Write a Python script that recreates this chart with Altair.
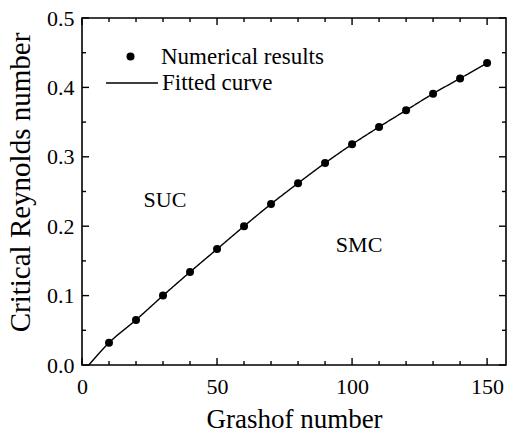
import altair as alt
import pandas as pd

# ---- data ----
grashof = [10, 20, 30, 40, 50, 60, 70, 80, 90, 100, 110, 120, 130, 140, 150]
reynolds = [0.032, 0.065, 0.100, 0.134, 0.167, 0.200, 0.232, 0.262, 0.291,
            0.318, 0.343, 0.367, 0.391, 0.413, 0.435]
fit_x = [2.5, 10, 20, 30, 40, 50, 60, 70, 80, 90, 100, 110, 120, 130, 140, 150]
fit_y = [0.0, 0.032, 0.065, 0.100, 0.134, 0.167, 0.200, 0.232, 0.262, 0.291,
         0.318, 0.343, 0.367, 0.391, 0.413, 0.435]
region_labels = ["SUC", "SMC"]
region_x = [30.7, 102.6]
region_y = [0.238, 0.173]
x_major = [0, 50, 100, 150]
x_minor = [10, 20, 30, 40, 60, 70, 80, 90, 110, 120, 130, 140]
y_major = [0.0, 0.1, 0.2, 0.3, 0.4, 0.5]
y_minor = [0.05, 0.15, 0.25, 0.35, 0.45]

FONT = "Liberation Serif"
W, H = 424, 347
MAJ, MIN = 7, 4
xs = alt.Scale(domain=[0, 157], nice=False, zero=False)
ys = alt.Scale(domain=[0, 0.5], nice=False)

fit_df = pd.DataFrame({"x": fit_x, "y": fit_y, "series": "Fitted curve"})
pts_df = pd.DataFrame({"x": grashof, "y": reynolds, "series": "Numerical results"})
txt_df = pd.DataFrame({"x": region_x, "y": region_y, "label": region_labels})

line = alt.Chart(fit_df).mark_line(color="black", strokeWidth=1.4,
                                   interpolate="monotone").encode(
    x=alt.X("x:Q", scale=xs, title="Grashof number",
            axis=alt.Axis(values=x_major, format="d", ticks=False, domain=False,
                          grid=False, labelFlush=False, labelPadding=11,
                          labelFont=FONT, labelFontSize=22, titleFont=FONT,
                          titlePadding=9, titleFontSize=27)),
    y=alt.Y("y:Q", scale=ys, title="Critical Reynolds number",
            axis=alt.Axis(values=y_major, format=".1f", ticks=False, domain=False,
                          grid=False, labelFlush=False, labelPadding=8,
                          labelFont=FONT, labelFontSize=22, titleFont=FONT,
                          titlePadding=11, titleFontSize=29, titleY=164)),
    strokeDash=alt.StrokeDash(
        "series:N",
        scale=alt.Scale(domain=["Fitted curve"], range=[[1, 0]]),
        legend=alt.Legend(orient="none", legendX=23, legendY=38, title=None,
                          symbolSize=2704, symbolStrokeWidth=1.5,
                          symbolStrokeColor="black", labelOffset=3,
                          labelLimit=400)),
)

pts = alt.Chart(pts_df).mark_point(filled=True, color="black", size=64,
                                   opacity=1).encode(
    x=alt.X("x:Q", scale=xs, axis=None),
    y=alt.Y("y:Q", scale=ys, axis=None),
    shape=alt.Shape(
        "series:N",
        scale=alt.Scale(domain=["Numerical results"], range=["circle"]),
        legend=alt.Legend(orient="none", legendX=37, legendY=27, title=None,
                          symbolSize=64, symbolFillColor="black",
                          symbolStrokeColor="black", symbolOpacity=1,
                          labelOffset=19, labelLimit=400)),
)

txt = alt.Chart(txt_df).mark_text(font=FONT, fontSize=22, color="black").encode(
    x=alt.X("x:Q", scale=xs, axis=None),
    y=alt.Y("y:Q", scale=ys, axis=None),
    text="label:N",
)


def xticks(values, y0, y1):
    return alt.Chart(pd.DataFrame({"v": values})).mark_rule(
        color="black", strokeWidth=1.4).encode(
        x=alt.X("v:Q", scale=xs, axis=None),
        y=alt.value(y0), y2=alt.value(y1))


def yticks(values, x0, x1):
    return alt.Chart(pd.DataFrame({"v": values})).mark_rule(
        color="black", strokeWidth=1.4).encode(
        y=alt.Y("v:Q", scale=ys, axis=None),
        x=alt.value(x0), x2=alt.value(x1))


ticks = [
    xticks(x_major, H, H - MAJ), xticks(x_minor, H, H - MIN),
    xticks(x_major, 0, MAJ), xticks(x_minor, 0, MIN),
    yticks(y_major, 0, MAJ), yticks(y_minor, 0, MIN),
    yticks(y_major, W, W - MAJ), yticks(y_minor, W, W - MIN),
]

chart = alt.layer(*ticks, line, pts, txt).resolve_axis(
    x="independent", y="independent"
).properties(
    width=W, height=H,
    autosize=alt.AutoSizeParams(type="none"),
    padding={"left": 82, "top": 18, "right": 1, "bottom": 73},
    background="white",
).configure_view(
    stroke="black", strokeWidth=1.6
).configure_axis(
    labelFont=FONT, labelFontSize=22, labelColor="black",
    titleFont=FONT, titleColor="black", titleFontWeight="normal",
).configure_legend(
    labelFont=FONT, labelFontSize=23, labelColor="black"
)

chart.save("out.html", embed_options={"renderer": "svg", "actions": False})
